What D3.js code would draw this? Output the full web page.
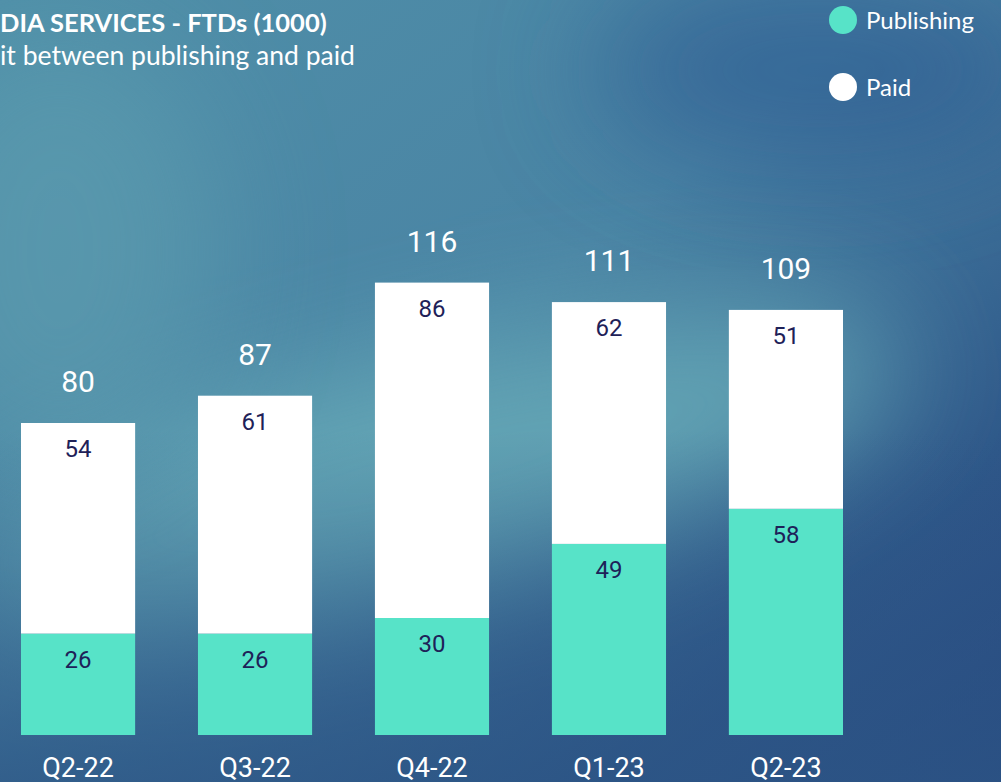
<!DOCTYPE html>
<html>
<head>
<meta charset="utf-8">
<script src="https://cdn.jsdelivr.net/npm/d3@7"></script>
<style>
  html, body { margin: 0; padding: 0; overflow: hidden; background: #3f739a; }
  #chart svg { display: block; }
</style>
</head>
<body>
<div id="chart"></div>
<script>
const categories = ["Q2-22", "Q3-22", "Q4-22", "Q1-23", "Q2-23"]
const publishing = [26, 26, 30, 49, 58]
const paid = [54, 61, 86, 62, 51]
const totals = [80, 87, 116, 111, 109]
const seriesNames = ["Publishing", "Paid"]

const width = 1001, height = 782
const colors = { Publishing: "#57e3c8", Paid: "#ffffff" }

const svg = d3.select("#chart").append("svg")
    .attr("width", width)
    .attr("height", height)

// Fond en dégradé
const defs = svg.append("defs")
const base = defs.append("linearGradient").attr("id", "bg")
    .attr("x1", 0).attr("y1", 0).attr("x2", 1).attr("y2", 1)
base.append("stop").attr("offset", 0).attr("stop-color", "#4f8fa8")
base.append("stop").attr("offset", 0.45).attr("stop-color", "#4a84a4")
base.append("stop").attr("offset", 0.8).attr("stop-color", "#2e5688")
base.append("stop").attr("offset", 1).attr("stop-color", "#27467f")

const blur = defs.append("filter").attr("id", "blur")
    .attr("x", "-50%").attr("y", "-50%").attr("width", "200%").attr("height", "200%")
blur.append("feGaussianBlur").attr("stdDeviation", 60)

const bottomFade = defs.append("linearGradient").attr("id", "bottomFade")
    .attr("x1", 0).attr("y1", 0).attr("x2", 0).attr("y2", 1)
bottomFade.append("stop").attr("offset", 0.55).attr("stop-color", "#2c5585").attr("stop-opacity", 0)
bottomFade.append("stop").attr("offset", 1).attr("stop-color", "#2c5585").attr("stop-opacity", 0.75)

svg.append("rect").attr("width", width).attr("height", height).attr("fill", "url(#bg)")
svg.append("ellipse")
    .attr("cx", 430).attr("cy", 470).attr("rx", 480).attr("ry", 120)
    .attr("transform", "rotate(-14 430 470)")
    .attr("fill", "#68abb8").attr("opacity", 0.85)
    .attr("filter", "url(#blur)")
svg.append("ellipse")
    .attr("cx", 60).attr("cy", 250).attr("rx", 160).attr("ry", 220)
    .attr("fill", "#5e9fb0").attr("opacity", 0.6)
    .attr("filter", "url(#blur)")
svg.append("ellipse")
    .attr("cx", 820).attr("cy", 70).attr("rx", 230).attr("ry", 100)
    .attr("fill", "#2c5690").attr("opacity", 0.6)
    .attr("filter", "url(#blur)")
svg.append("rect").attr("width", width).attr("height", height).attr("fill", "url(#bottomFade)")

// Echelles
const x = d3.scaleBand().domain(categories).range([21, 843]).paddingInner(0.355).paddingOuter(0)
const y = d3.scaleLinear().domain([0, 120]).range([735, 267])

const rows = categories.map((c, i) => ({ cat: c, Publishing: publishing[i], Paid: paid[i], total: totals[i] }))
const stacked = d3.stack().keys(seriesNames)(rows)

const bars = svg.append("g").attr("class", "bars")
stacked.forEach(layer => {
    bars.append("g")
        .selectAll("rect")
        .data(layer)
        .join("rect")
        .attr("x", d => x(d.data.cat))
        .attr("width", x.bandwidth())
        .attr("y", d => y(d[1]))
        .attr("height", d => y(d[0]) - y(d[1]))
        .attr("fill", colors[layer.key])
})

// Valeurs des segments
stacked.forEach(layer => {
    svg.append("g")
        .selectAll("text")
        .data(layer)
        .join("text")
        .attr("x", d => x(d.data.cat) + x.bandwidth() / 2)
        .attr("y", d => y(d[1]) + 34)
        .attr("text-anchor", "middle")
        .attr("font-family", "Roboto, sans-serif")
        .attr("font-size", 24)
        .attr("fill", "#1e2158")
        .text(d => d[1] - d[0])
})

// Totaux
svg.append("g")
    .selectAll("text")
    .data(rows)
    .join("text")
    .attr("x", d => x(d.cat) + x.bandwidth() / 2)
    .attr("y", d => y(d.Publishing + d.Paid) - 31)
    .attr("text-anchor", "middle")
    .attr("font-family", "Roboto, sans-serif")
    .attr("font-size", 30)
    .attr("fill", "#ffffff")
    .text(d => d.total)

// Axe X
const xAxis = svg.append("g")
    .attr("transform", "translate(0,735)")
    .call(d3.axisBottom(x).tickSize(0).tickPadding(42))
xAxis.select(".domain").remove()
xAxis.selectAll("text")
    .attr("font-family", "Roboto, sans-serif")
    .attr("font-size", 27)
    .attr("fill", "#ffffff")
    .attr("dy", 0)

// Titre
svg.append("text")
    .attr("x", 0).attr("y", 32)
    .attr("font-family", "Lato, sans-serif")
    .attr("font-weight", 700)
    .attr("font-size", 25.5)
    .attr("fill", "#ffffff")
    .text("DIA SERVICES - FTDs (1000)")
svg.append("text")
    .attr("x", 0).attr("y", 65)
    .attr("font-family", "Lato, sans-serif")
    .attr("font-size", 26.5)
    .attr("fill", "#ffffff")
    .text("it between publishing and paid")

// Légende
const legend = svg.append("g")
    .selectAll("g")
    .data(seriesNames)
    .join("g")
    .attr("transform", (d, i) => "translate(843," + (20 + i * 67) + ")")
legend.append("circle").attr("r", 14).attr("fill", d => colors[d])
legend.append("text")
    .attr("x", 23).attr("y", 9)
    .attr("font-family", "Lato, sans-serif")
    .attr("font-size", 24)
    .attr("fill", "#ffffff")
    .text(d => d)
</script>
</body>
</html>
